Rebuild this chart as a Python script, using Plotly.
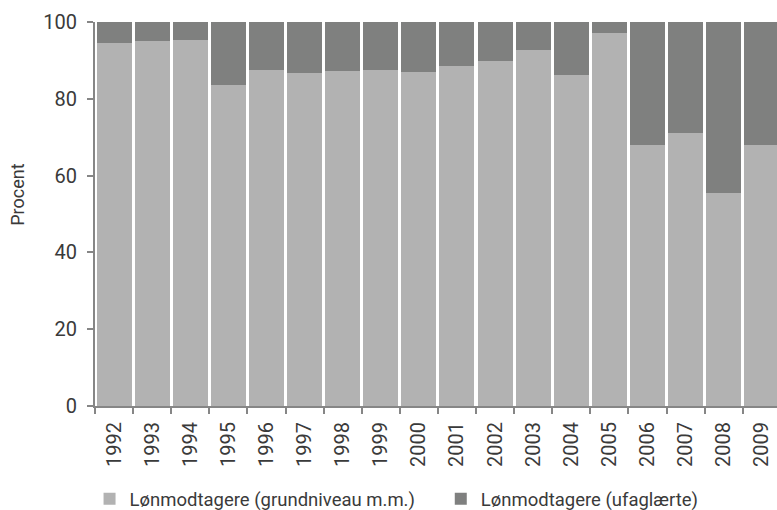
import plotly.graph_objects as go

years = [str(y) for y in range(1992, 2010)]
grundniveau = [94.5, 95.0, 95.4, 83.5, 87.4, 86.8, 87.3, 87.6, 87.1,
               88.5, 89.8, 92.6, 86.1, 97.1, 68.1, 71.2, 55.5, 68.1]
ufaglaerte = [round(100 - v, 1) for v in grundniveau]

FONT = "Roboto"
TEXT = "#3a3a3a"
AXIS = "#868686"

fig = go.Figure()
fig.add_trace(go.Bar(x=years, y=grundniveau, name="Lønmodtagere (grundniveau m.m.)",
                     marker=dict(color="#b2b2b2", line=dict(width=0)), legend="legend"))
fig.add_trace(go.Bar(x=years, y=ufaglaerte, name="Lønmodtagere (ufaglærte)",
                     marker=dict(color="#7f807f", line=dict(width=0)), legend="legend2"))

legend_style = dict(orientation="h", xanchor="left", y=-0.292, yanchor="bottom",
                    font=dict(family=FONT, size=18.5, color=TEXT), itemwidth=30,
                    bgcolor="rgba(0,0,0,0)")

fig.update_layout(
    template="none",
    width=777, height=510,
    barmode="stack", bargap=0.08,
    plot_bgcolor="white", paper_bgcolor="white",
    margin=dict(l=95, r=0, t=22, b=104, autoexpand=False),
    font=dict(family=FONT, size=19, color=TEXT),
    showlegend=True,
    legend=dict(x=-0.008, **legend_style),
    legend2=dict(x=0.507, **legend_style),
    annotations=[dict(text="Procent", xref="paper", yref="paper", x=-0.113, y=0.55,
                      textangle=-90, showarrow=False,
                      font=dict(family=FONT, size=18, color=TEXT),
                      xanchor="center", yanchor="middle")],
)
fig.update_xaxes(
    type="category", range=[-0.5, 17.4], automargin=False,
    showline=True, linecolor=AXIS, linewidth=2,
    ticks="outside", ticklen=6, tickcolor=AXIS, tickwidth=2, tickson="boundaries",
    tickangle=-90, ticklabelstandoff=6,
    tickfont=dict(family=FONT, size=20, color=TEXT), showgrid=False,
)
fig.update_yaxes(
    range=[0, 100], tickvals=[0, 20, 40, 60, 80, 100], automargin=False,
    showline=True, linecolor=AXIS, linewidth=2,
    ticks="outside", ticklen=6, tickcolor=AXIS, tickwidth=2,
    ticklabelstandoff=6, tickfont=dict(family=FONT, size=20, color=TEXT),
    showgrid=False, zeroline=False,
)

fig.write_html("out.html")
